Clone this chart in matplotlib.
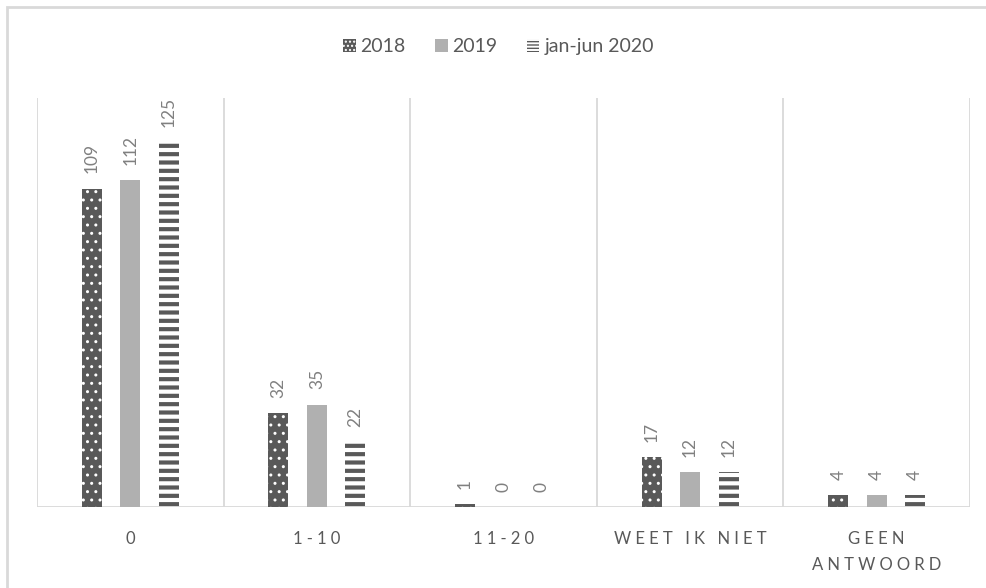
import numpy as np
import matplotlib.pyplot as plt
from matplotlib.patches import Rectangle, Patch

plt.rcParams['font.family'] = ['Lato', 'DejaVu Sans']

categories = ["0", "1-10", "11-20", "Weet ik niet", "Geen\nantwoord"]
series_names = ["2018", "2019", "jan-jun 2020"]
v2018 = [109, 32, 1, 17, 4]
v2019 = [112, 35, 0, 12, 4]
v2020 = [125, 22, 0, 12, 4]

dark = '#595959'
light = '#b0b0b0'
grid = '#d9d9d9'
label_col = '#808080'


def spread(s):
    # wide letter spacing like the original axis labels
    sep = '\u2005'
    return '\n'.join(sep.join(ch for ch in line.upper()) for line in s.split('\n'))


fig = plt.figure(figsize=(9.87, 5.88), dpi=100)
ax = fig.add_axes([0.0375, 0.1378, 0.9453, 0.6955])

x = np.arange(len(categories))
width = 0.107
offset = 0.206

# 2018: dark with white dots
with plt.rc_context({'hatch.linewidth': 1.0}):
    b1 = ax.bar(x - offset, v2018, width, color=dark, edgecolor='white', linewidth=0, hatch='..')
    h1 = Patch(facecolor=dark, edgecolor='white', linewidth=0, hatch='....')
# 2019: plain light gray
b2 = ax.bar(x, v2019, width, color=light, linewidth=0)
h2 = Patch(facecolor=light, linewidth=0)
# 2020: horizontal stripes
with plt.rc_context({'hatch.linewidth': 3.0}):
    b3 = ax.bar(x + offset, v2020, width, color='white', edgecolor=dark, linewidth=0, hatch='--')
with plt.rc_context({'hatch.linewidth': 2.0}):
    h3 = Patch(facecolor='white', edgecolor=dark, linewidth=0, hatch='-----')

for bars, vals in [(b1, v2018), (b2, v2019), (b3, v2020)]:
    for rect, v in zip(bars, vals):
        ax.annotate(str(v), (rect.get_x() + rect.get_width() / 2, rect.get_height()),
                    xytext=(0, 11), textcoords='offset points', rotation=90,
                    ha='center', va='bottom', fontsize=12.5, color=label_col)

ax.set_xlim(-0.5, len(categories) - 0.5)
ax.set_ylim(0, 140)
for b in np.arange(-0.5, len(categories), 1):
    ax.axvline(b, color=grid, lw=1.3, zorder=0)
ax.axhline(0, color=grid, lw=1.3, zorder=0)

for s in ax.spines.values():
    s.set_visible(False)
ax.set_yticks([])
ax.set_xticks(x)
ax.set_xticklabels([spread(c) for c in categories], fontsize=12, color=dark, linespacing=1.8)
ax.tick_params(axis='x', length=0, pad=17)

fig.legend([h1, h2, h3], series_names, loc='center', bbox_to_anchor=(0.505, 0.921),
           ncol=3, frameon=False, fontsize=14, handlelength=0.65, handleheight=0.65,
           handletextpad=0.25, columnspacing=1.5, labelcolor=dark)

fig.patches.append(Rectangle((7 / 987, -0.01), 1.0, 1 - 7 / 588 + 0.01, transform=fig.transFigure,
                             fill=False, edgecolor=grid, lw=2))

fig.savefig('out.png', dpi=100)
